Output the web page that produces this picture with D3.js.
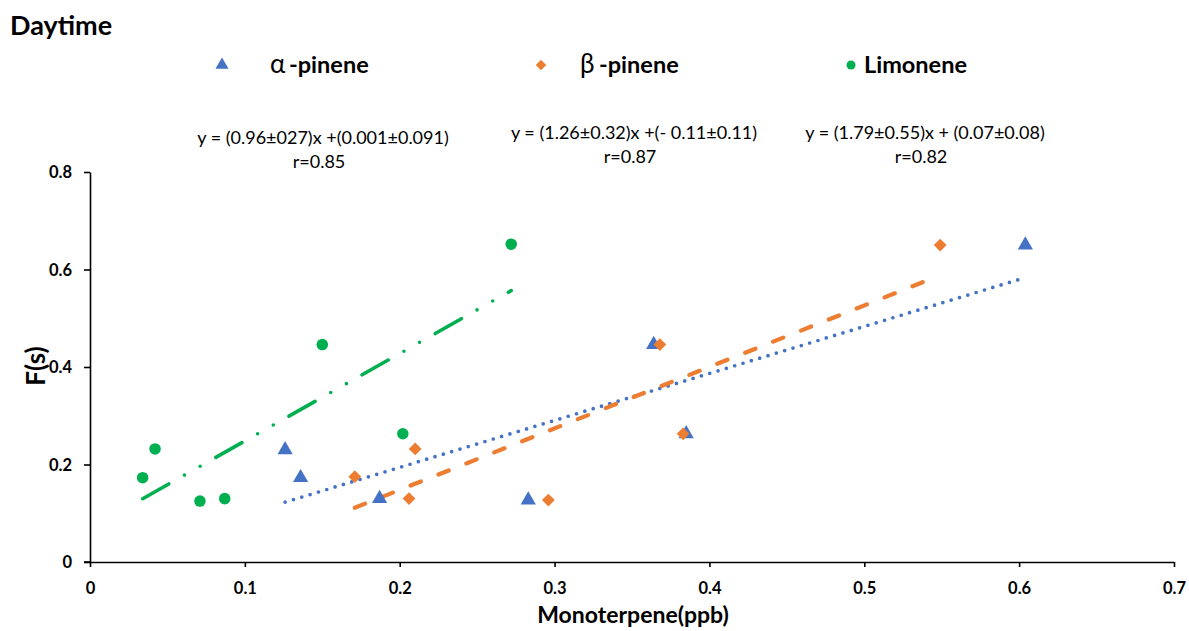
<!DOCTYPE html>
<html>
<head>
<meta charset="utf-8">
<script src="https://cdn.jsdelivr.net/npm/d3@7"></script>
<style>
  html, body { margin: 0; padding: 0; background: #fff; }
  svg { display: block; }
  text { font-family: Lato, "Open Sans", sans-serif; fill: #000; }
</style>
</head>
<body>
<svg id="chart" width="1189" height="631"></svg>
<script>
// ---- data ----
const alphaX = [0.126, 0.136, 0.187, 0.283, 0.364, 0.385, 0.604];
const alphaY = [0.230, 0.173, 0.130, 0.127, 0.446, 0.263, 0.650];
const betaX  = [0.171, 0.206, 0.210, 0.296, 0.368, 0.383, 0.549];
const betaY  = [0.175, 0.130, 0.232, 0.127, 0.446, 0.263, 0.650];
const limX   = [0.034, 0.042, 0.071, 0.087, 0.150, 0.202, 0.272];
const limY   = [0.173, 0.232, 0.125, 0.130, 0.446, 0.263, 0.652];

const seriesNames = ["α", "β", "Limonene"];
const xTicks = [0, 0.1, 0.2, 0.3, 0.4, 0.5, 0.6, 0.7];
const yTicks = [0, 0.2, 0.4, 0.6, 0.8];
const equations = [
  "y = (0.96±027)x +(0.001±0.091)",
  "y = (1.26±0.32)x +(- 0.11±0.11)",
  "y = (1.79±0.55)x + (0.07±0.08)"
];
const rValues = ["r=0.85", "r=0.87", "r=0.82"];

// ---- setup ----
const svg = d3.select("#chart");
const x = d3.scaleLinear().domain([0, 0.7]).range([90, 1174]);
const y = d3.scaleLinear().domain([0, 0.8]).range([562, 172]);

const colors = { alpha: "#4472C4", beta: "#ED7D31", lim: "#00B050" };

function zip(xs, ys) { return xs.map((v, i) => ({ x: v, y: ys[i] })); }
function fit(pts) {
  const mx = d3.mean(pts, d => d.x), my = d3.mean(pts, d => d.y);
  const sxy = d3.sum(pts, d => (d.x - mx) * (d.y - my));
  const sxx = d3.sum(pts, d => (d.x - mx) ** 2);
  const b = sxy / sxx, a = my - b * mx;
  const [x0, x1] = d3.extent(pts, d => d.x);
  return [{ x: x0, y: a + b * x0 }, { x: x1, y: a + b * x1 }];
}

const series = [
  { key: "alpha", pts: zip(alphaX, alphaY), dash: "0,8.7", width: 3.7, cap: "round" },
  { key: "beta",  pts: zip(betaX, betaY),  dash: "11,19", width: 4.2, cap: "round" },
  { key: "lim",   pts: zip(limX, limY),    dash: "30,18,0,18,0,18", width: 3.6, cap: "round" }
];

// ---- axes ----
const xAxis = d3.axisBottom(x).tickValues(xTicks).tickSize(5).tickSizeOuter(0)
  .tickFormat(d => d === 0 ? "0" : d3.format(".1f")(d));
const yAxis = d3.axisLeft(y).tickValues(yTicks).tickSize(6).tickSizeOuter(0)
  .tickFormat(d => d === 0 ? "0" : d3.format(".1f")(d));

const gx = svg.append("g").attr("transform", `translate(0,${y(0)})`).call(xAxis);
const gy = svg.append("g").attr("transform", `translate(${x(0)},0)`).call(yAxis);
[gx, gy].forEach(g => {
  g.select(".domain").attr("stroke", "#000").attr("stroke-width", 1.6);
  g.selectAll(".tick line").attr("stroke", "#000").attr("stroke-width", 1.6);
  g.selectAll(".tick text").attr("font-family", "Lato, sans-serif")
    .attr("font-size", 16.5).attr("font-weight", 700).attr("fill", "#000");
});
gx.selectAll(".tick text").attr("dy", "0").attr("y", 32);
gy.selectAll(".tick text").attr("x", -18).attr("dy", "0.35em");
svg.append("line").attr("x1", x(0) - 6).attr("x2", x(0)).attr("y1", y(0)).attr("y2", y(0))
  .attr("stroke", "#000").attr("stroke-width", 1.6);

// ---- trend lines ----
series.forEach(s => {
  const f = fit(s.pts);
  svg.append("line")
    .attr("x1", x(f[0].x)).attr("y1", y(f[0].y))
    .attr("x2", x(f[1].x)).attr("y2", y(f[1].y))
    .attr("stroke", colors[s.key]).attr("stroke-width", s.width)
    .attr("stroke-dasharray", s.dash).attr("stroke-linecap", s.cap);
});

// ---- markers ----
const triangle = d3.symbol().type(d3.symbolTriangle).size(100);
const diamond = d3.symbol().type(d3.symbolSquare).size(82);
const circle = d3.symbol().type(d3.symbolCircle).size(104);

function drawMarkers(pts, gen, color, rot) {
  svg.append("g").selectAll("path").data(pts).join("path")
    .attr("d", gen())
    .attr("transform", d => `translate(${x(d.x)},${y(d.y)}) rotate(${rot})`)
    .attr("fill", color);
}
drawMarkers(series[2].pts, circle, colors.lim, 0);
drawMarkers(series[0].pts, triangle, colors.alpha, 0);
drawMarkers(series[1].pts, diamond, colors.beta, 45);

// ---- title ----
svg.append("text").attr("x", 10).attr("y", 35).attr("font-size", 27)
  .attr("font-weight", 700).text("Daytime");

// ---- legend ----
const legend = [
  { mx: 222, key: "alpha", gen: d3.symbol().type(d3.symbolTriangle).size(75), rot: 0, gx: 270, greek: seriesNames[0], tx: 289, rest: "-pinene" },
  { mx: 541, key: "beta", gen: d3.symbol().type(d3.symbolSquare).size(55), rot: 45, gx: 580, greek: seriesNames[1], tx: 599, rest: "-pinene" },
  { mx: 851, key: "lim", gen: d3.symbol().type(d3.symbolCircle).size(64), rot: 0, gx: 0, greek: "", tx: 864, rest: seriesNames[2] }
];
legend.forEach(l => {
  svg.append("path").attr("d", l.gen())
    .attr("transform", `translate(${l.mx},65) rotate(${l.rot})`).attr("fill", colors[l.key]);
  if (l.greek) {
    svg.append("text").attr("x", l.gx).attr("y", 73).attr("font-size", 26)
      .attr("font-family", "DejaVu Sans, sans-serif").attr("font-weight", 400).text(l.greek);
  }
  svg.append("text").attr("x", l.tx).attr("y", 73).attr("font-size", 23.5)
    .attr("font-weight", 700).text(l.rest);
});

// ---- annotations ----
const annX = [323, 634, 925];
const annY = [144, 139, 139];
equations.forEach((eq, i) => {
  svg.append("text").attr("x", annX[i]).attr("y", annY[i]).attr("text-anchor", "middle")
    .attr("font-size", 18).text(eq);
  svg.append("text").attr("x", annX[i] - 4).attr("y", annY[i] + 24).attr("text-anchor", "middle")
    .attr("font-size", 18).text(rValues[i]);
});

// ---- axis titles ----
svg.append("text").attr("x", 633).attr("y", 623).attr("text-anchor", "middle")
  .attr("font-size", 23).attr("font-weight", 700).text("Monoterpene(ppb)");
svg.append("text").attr("transform", `translate(45,366) rotate(-90)`).attr("text-anchor", "middle")
  .attr("font-size", 26).attr("font-weight", 700).text("F(s)");
</script>
</body>
</html>
